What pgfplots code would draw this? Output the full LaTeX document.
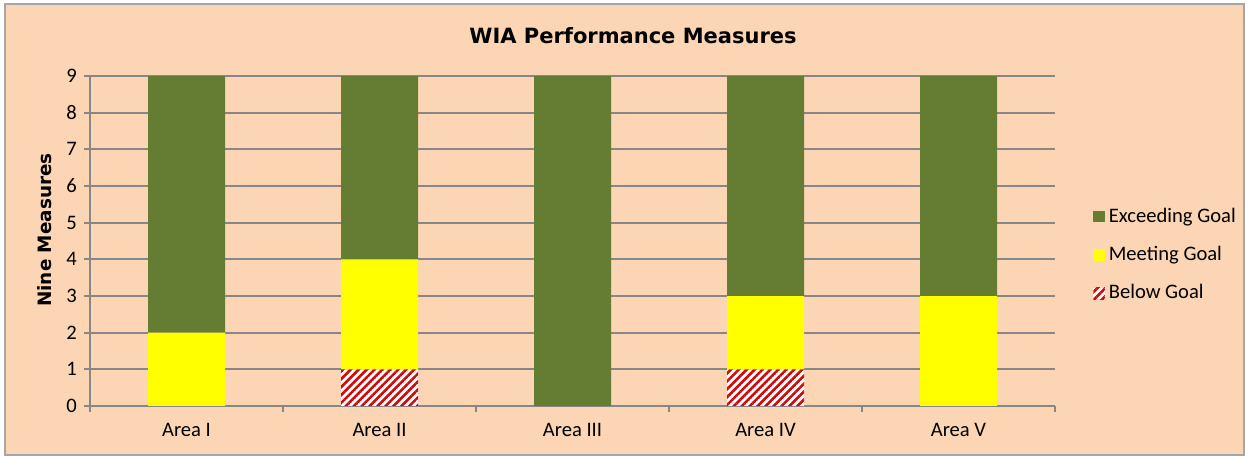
\documentclass[border=0pt]{standalone}
\usepackage{pgfplots}
\pgfplotsset{compat=1.18}
\usetikzlibrary{patterns.meta}
\usepackage{fontspec}
\setmainfont{Carlito}
\newfontfamily\dejavu{DejaVu Sans}

\definecolor{peach}{HTML}{FCD5B5}
\definecolor{olive}{HTML}{657C33}
\definecolor{hatchred}{HTML}{D00A0A}
\definecolor{brightyellow}{HTML}{FFFF00}
\definecolor{gridgray}{HTML}{878787}

\tikzdeclarepattern{
  name=redhatch,
  type=uncolored,
  bounding box={(0pt,-0.7pt) and (2.8pt,0.7pt)},
  tile size={(2.8pt,2.8pt)},
  tile transformation={rotate=45},
  code={\draw[line width=1.3pt] (-0.2pt,0pt) -- (3.0pt,0pt);}
}

\pgfplotstableread{
x below meeting exceeding
0 0 2 7
1 1 3 5
2 0 0 9
3 1 2 6
4 0 3 6
}\wiadata

\begin{document}
\begin{tikzpicture}[x=0.5pt,y=0.5pt]
\useasboundingbox (0,0) rectangle (1249,459);
% page and chart area (pixel units, y up)
\fill[white] (0,0) rectangle (1249,459);
\draw[gray!70, line width=1pt, fill=peach] (5,4) rectangle (1244,455);
\node[font=\dejavu\bfseries\fontsize{10.5}{12}\selectfont] at (633,423) {WIA Performance Measures};
\node[font=\dejavu\bfseries\fontsize{9.2}{11}\selectfont, rotate=90] at (45,229) {Nine Measures};

\begin{axis}[
    at={(45pt,26.5pt)}, anchor=south west,
    scale only axis,
    width=482.5pt, height=165pt,
    ybar stacked, bar width=38.5pt,
    xmin=-0.5, xmax=4.5, ymin=0, ymax=9,
    axis x line*=bottom, axis y line*=left,
    axis line style={gridgray, line width=0.9pt, -},
    xtick={0,...,4},
    xticklabels={Area I, Area II, Area III, Area IV, Area V},
    major x tick style={draw=none},
    minor xtick={-0.5,0.5,...,4.5},
    minor x tick style={gridgray, line width=0.9pt},
    minor tick length=3pt,
    ytick={0,...,9},
    y tick style={gridgray, line width=0.9pt},
    major tick length=3pt,
    tick align=outside,
    ymajorgrids,
    major grid style={gridgray, line width=0.9pt},
    tick label style={font=\fontsize{10.3}{12}\selectfont, text=black},
    /pgf/number format/assume math mode=true,
    xticklabel style={yshift=-2pt},
    legend style={at={(1.033,0.4576)}, anchor=west, draw=none, fill=none,
        font=\fontsize{10.3}{12}\selectfont, row sep=6.5pt,
        legend cell align=left},
    reverse legend,
    legend image code/.code={\fill[#1] (0pt,-2.9pt) rectangle (5.8pt,2.9pt);},
]
\addplot[draw=none, fill=white, postaction={pattern=redhatch, pattern color=hatchred}]
    table[x=x, y=below] {\wiadata};
\addplot[draw=none, fill=brightyellow] table[x=x, y=meeting] {\wiadata};
\addplot[draw=none, fill=olive] table[x=x, y=exceeding] {\wiadata};
\legend{Below Goal, Meeting Goal, Exceeding Goal}
\end{axis}
\end{tikzpicture}
\end{document}
